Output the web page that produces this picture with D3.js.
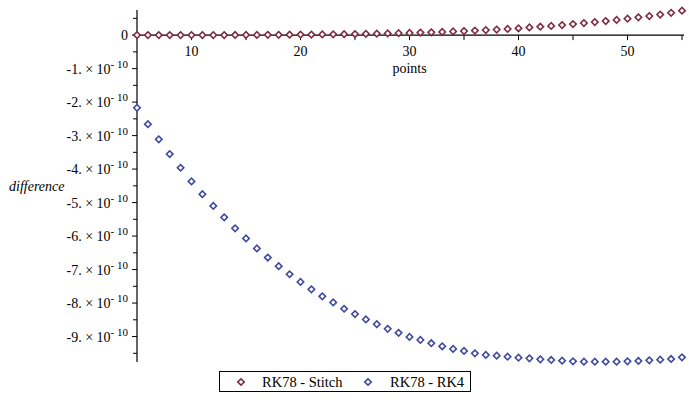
<!DOCTYPE html>
<html>
<head>
<meta charset="utf-8">
<script src="https://cdn.jsdelivr.net/npm/d3@7"></script>
<style>
  html, body { margin: 0; padding: 0; background: #fff; font-family: "Liberation Serif", "Times New Roman", serif; }
  svg { display: block; }
</style>
</head>
<body>
<svg id="chart" width="689" height="400"></svg>
<script>
// ---- data ----
const points = [5,6,7,8,9,10,11,12,13,14,15,16,17,18,19,20,21,22,23,24,25,26,27,28,29,30,
                31,32,33,34,35,36,37,38,39,40,41,42,43,44,45,46,47,48,49,50,51,52,53,54,55];
const rk78Stitch = [0,0,0,0,0,0.001e-10,0.002e-10,0.002e-10,0.003e-10,0.004e-10,0.005e-10,0.006e-10,
                    0.008e-10,0.010e-10,0.012e-10,0.015e-10,0.018e-10,0.021e-10,0.025e-10,0.029e-10,
                    0.033e-10,0.038e-10,0.044e-10,0.050e-10,0.058e-10,0.066e-10,0.075e-10,0.085e-10,
                    0.095e-10,0.11e-10,0.12e-10,0.135e-10,0.15e-10,0.165e-10,0.185e-10,0.205e-10,
                    0.23e-10,0.25e-10,0.275e-10,0.30e-10,0.33e-10,0.36e-10,0.39e-10,0.42e-10,
                    0.455e-10,0.49e-10,0.53e-10,0.57e-10,0.615e-10,0.665e-10,0.73e-10];
const rk78RK4 = [-2.17e-10,-2.66e-10,-3.11e-10,-3.55e-10,-3.96e-10,-4.37e-10,-4.75e-10,-5.10e-10,
                 -5.44e-10,-5.77e-10,-6.07e-10,-6.37e-10,-6.64e-10,-6.90e-10,-7.14e-10,-7.37e-10,
                 -7.59e-10,-7.80e-10,-7.98e-10,-8.17e-10,-8.33e-10,-8.49e-10,-8.63e-10,-8.77e-10,
                 -8.89e-10,-9.01e-10,-9.10e-10,-9.20e-10,-9.29e-10,-9.37e-10,-9.43e-10,-9.50e-10,
                 -9.55e-10,-9.57e-10,-9.60e-10,-9.63e-10,-9.65e-10,-9.68e-10,-9.70e-10,-9.72e-10,
                 -9.74e-10,-9.75e-10,-9.75e-10,-9.75e-10,-9.75e-10,-9.74e-10,-9.73e-10,-9.71e-10,
                 -9.69e-10,-9.67e-10,-9.62e-10];
const xMajorTicks = [10,20,30,40,50];
const xMinorTicks = [15,25,35,45,55];
const yMajorTicks = [0,-1e-10,-2e-10,-3e-10,-4e-10,-5e-10,-6e-10,-7e-10,-8e-10,-9e-10];
const yTickMantissa = ["0","-1.","-2.","-3.","-4.","-5.","-6.","-7.","-8.","-9."];
const yMinorTicks = [0.5e-10,-0.5e-10,-1.5e-10,-2.5e-10,-3.5e-10,-4.5e-10,-5.5e-10,-6.5e-10,-7.5e-10,-8.5e-10,-9.5e-10];
const seriesNames = ["RK78 - Stitch","RK78 - RK4"];
const seriesColors = ["#7e2c42","#3f4a9c"];

const FONT = "Liberation Serif";

// ---- scales ----
const svg = d3.select("#chart");
const x = d3.scaleLinear().domain([5,55]).range([137,682]);
const y = d3.scaleLinear().domain([-9.76e-10, 0.75e-10]).range([362,10]);

function txt(sel, size) {
  return sel.attr("font-family", FONT).attr("font-size", size).attr("fill", "#000").classed("lbl", true);
}

// ---- axes ----
const axisG = svg.append("g");
axisG.append("line").attr("x1",x(5)).attr("x2",x(5)).attr("y1",y.range()[1]).attr("y2",y.range()[0])
  .attr("stroke","#000").attr("stroke-width",1.2);
axisG.append("line").attr("x1",x(5)).attr("x2",x(55)+2).attr("y1",y(0)).attr("y2",y(0))
  .attr("stroke","#000").attr("stroke-width",1.2);

axisG.selectAll(".xt").data(xMajorTicks.concat(xMinorTicks)).enter().append("line")
  .attr("x1",d=>x(d)).attr("x2",d=>x(d)).attr("y1",y(0)).attr("y2",y(0)+5)
  .attr("stroke","#000").attr("stroke-width",1);
txt(axisG.selectAll(".xl").data(xMajorTicks).enter().append("text")
  .attr("x",d=>x(d)).attr("y",y(0)+21).attr("text-anchor","middle"), 14).text(d=>d);

axisG.selectAll(".ytM").data(yMajorTicks).enter().append("line")
  .attr("x1",x(5)-5).attr("x2",x(5)).attr("y1",d=>y(d)).attr("y2",d=>y(d))
  .attr("stroke","#000").attr("stroke-width",1);
axisG.selectAll(".ytm").data(yMinorTicks).enter().append("line")
  .attr("x1",x(5)-4).attr("x2",x(5)).attr("y1",d=>y(d)).attr("y2",d=>y(d))
  .attr("stroke","#000").attr("stroke-width",1);

yMajorTicks.forEach((v,i)=>{
  const t = txt(axisG.append("text").attr("x",x(5)-9).attr("y",y(v)+5)
    .attr("text-anchor","end"), 14);
  if (v === 0) { t.text(yTickMantissa[i]); return; }
  t.append("tspan").text(yTickMantissa[i] + " \u00d7 10");
  t.append("tspan").attr("font-size",11).attr("dy",-6).text("- 10");
});

txt(svg.append("text").attr("x",x(30)).attr("y",y(0)+38).attr("text-anchor","middle"), 14).text("points");
txt(svg.append("text").attr("x",9).attr("y",191), 14).attr("font-style","italic").text("difference");

// ---- points ----
const sym = d3.symbol().type(d3.symbolSquare).size(21);
const allSeries = [rk78Stitch, rk78RK4];
allSeries.forEach((vals,si)=>{
  svg.append("g").selectAll("path").data(points.map((p,i)=>[p, vals[i]])).enter().append("path")
    .attr("d", sym)
    .attr("transform", d=>`translate(${x(d[0])},${y(d[1])}) rotate(45)`)
    .attr("fill","#fff").attr("stroke",seriesColors[si]).attr("stroke-width",1.6);
});

// ---- legend ----
const lg = svg.append("g");
lg.append("rect").attr("x",219.5).attr("y",371.5).attr("width",251).attr("height",20)
  .attr("fill","#fff").attr("stroke","#000").attr("stroke-width",1);
const legendX = [[241,262],[368,390]];
seriesNames.forEach((n,i)=>{
  lg.append("path").attr("d",sym).attr("transform",`translate(${legendX[i][0]},382) rotate(45)`)
    .attr("fill","#fff").attr("stroke",seriesColors[i]).attr("stroke-width",1.6);
  txt(lg.append("text").attr("x",legendX[i][1]).attr("y",387), 14.5).text(n);
});

if (document.fonts && document.fonts.load) {
  document.fonts.load('14px "Liberation Serif"').then(() => {
    svg.selectAll("text.lbl").attr("font-family", FONT);
  }).catch(()=>{});
}
</script>
</body>
</html>
